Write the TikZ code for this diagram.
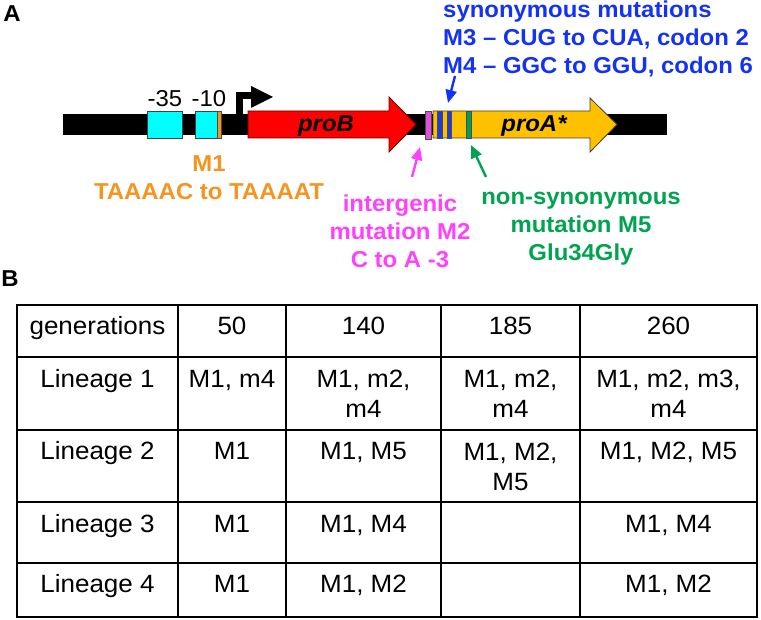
\documentclass[tikz,border=0pt]{standalone}
\usepackage{fontspec}
\setmainfont{Liberation Sans}[FakeStretch=1.04]
\usetikzlibrary{arrows.meta}
\definecolor{mblue}{RGB}{20,50,245}
\definecolor{mmag}{RGB}{255,64,255}
\definecolor{mgreen}{RGB}{0,163,80}
\definecolor{morange}{RGB}{247,148,30}
\definecolor{pgold}{RGB}{255,192,0}
\definecolor{pred}{RGB}{255,0,0}
\definecolor{pcyan}{RGB}{0,255,255}
\definecolor{sblue}{RGB}{30,60,230}
\definecolor{sgreen}{RGB}{0,160,80}
\definecolor{smag}{RGB}{220,80,220}
\tikzset{
  lbl/.style={inner sep=0pt, anchor=base, font=\fontsize{23}{28}\selectfont\bfseries},
  plain/.style={inner sep=0pt, anchor=base, font=\fontsize{23}{28}\selectfont},
  cell/.style={inner sep=0pt, anchor=base, align=center, font=\fontsize{25}{30}\selectfont},
  outl/.style={draw=black!75, line width=0.8pt},
  stripe/.style={draw=black!70, line width=0.8pt},
  callout/.style={line width=2.4pt, -{Triangle[length=13pt,width=11pt]}},
  grid/.style={line width=1.8pt, line cap=rect}
}
\begin{document}
\begin{tikzpicture}[x=1pt,y=-1pt]
\useasboundingbox (0,0) rectangle (761,620);
% panel labels
\node[lbl, font=\fontsize{23}{28}\selectfont\bfseries] (labA) at (12,22) {A};
\node[lbl, font=\fontsize{23}{28}\selectfont\bfseries] (labB) at (10,287) {B};
% DNA bar
\fill[black] (63,114) rectangle (667,135);
% promoter boxes
\draw[outl, fill=pcyan] (147,111) rectangle (182,138);
\draw[outl, fill=pcyan] (195,111) rectangle (217,138);
\draw[stripe, fill=morange] (217,111) rectangle (221,138);
\node[plain] (m35) at (165,107) {-35};
\node[plain] (m10) at (209,107) {-10};
% transcription start arrow
\draw[black, line width=7pt] (239,114) -- (239,96) -- (253,96);
\fill[black] (251,86) -- (273,97) -- (251,108) -- cycle;
% proB
\draw[draw=black!60!red, line width=0.8pt, fill=pred] (248,111) -- (389,111) -- (389,97) -- (416,124.5) -- (389,152) -- (389,138) -- (248,138) -- cycle;
\node[lbl, font=\fontsize{23}{28}\selectfont\bfseries\itshape] (proB) at (326,132) {proB};
% proA
\draw[outl, fill=pgold] (433,111) -- (590,111) -- (590,98) -- (617,124.5) -- (590,152) -- (590,138) -- (433,138) -- cycle;
\node[lbl, font=\fontsize{23}{28}\selectfont\bfseries\itshape] (proA) at (534,132) {proA*};
% mutation stripes
\draw[stripe, fill=smag] (425,111) rectangle (431,139);
\draw[stripe, fill=sblue] (437,111) rectangle (442,138);
\draw[stripe, fill=sblue] (447,111) rectangle (451,138);
\draw[stripe, fill=sgreen] (466,111) rectangle (471,138);
\coordinate (m2pt) at (420,147);
\coordinate (m34pt) at (448,103);
\coordinate (m5pt) at (471,145);
% labels (base anchor = baseline of last line)
\node[lbl, text=morange, align=center] (M1) at (209,200) {M1\\TAAAAC to TAAAAT};
\node[lbl, text=mblue, align=left, anchor=base west] (syn) at (443,74) {synonymous mutations\\M3 – CUG to CUA, codon 2\\M4 – GGC to GGU, codon 6};
\node[lbl, text=mmag, align=center] (M2) at (400,268) {intergenic\\mutation M2\\C to A -3};
\node[lbl, text=mgreen, align=center] (M5) at (581,261) {non-synonymous\\mutation M5\\Glu34Gly};
\coordinate (synfoot) at (455,76);
\coordinate (m2foot) at (412,177);
\coordinate (m5foot) at (486,177);
\draw[callout, mblue] (synfoot) -- (m34pt);
\draw[callout, mmag] (m2foot) -- (m2pt);
\draw[callout, mgreen] (m5foot) -- (m5pt);
% table grid
\draw[grid] (17,305) rectangle (757,617);
\foreach \yy in {357,430,502,563} \draw[grid] (17,\yy) -- (757,\yy);
\foreach \xx in {178,286,441,580} \draw[grid] (\xx,305) -- (\xx,617);
% header
\node[cell] (h0) at (97.5,335) {generations};
\node[cell] (h1) at (232,335) {50};
\node[cell] (h2) at (363.5,335) {140};
\node[cell] (h3) at (510.5,335) {185};
\node[cell] (h4) at (668.5,335) {260};
% lineage 1
\node[cell] (r1c0) at (97.5,388) {Lineage 1};
\node[cell] (r1c1) at (232,388) {M1, m4};
\node[cell] (r1c2) at (363.5,418) {M1, m2,\\m4};
\node[cell] (r1c3) at (510.5,418) {M1, m2,\\m4};
\node[cell] (r1c4) at (668.5,418) {M1, m2, m3,\\m4};
% lineage 2
\node[cell] (r2c0) at (97.5,460) {Lineage 2};
\node[cell] (r2c1) at (232,460) {M1};
\node[cell] (r2c2) at (363.5,460) {M1, M5};
\node[cell] (r2c3) at (510.5,490) {M1, M2,\\M5};
\node[cell] (r2c4) at (668.5,460) {M1, M2, M5};
% lineage 3
\node[cell] (r3c0) at (97.5,532) {Lineage 3};
\node[cell] (r3c1) at (232,532) {M1};
\node[cell] (r3c2) at (363.5,532) {M1, M4};
\node[cell] (r3c4) at (668.5,532) {M1, M4};
% lineage 4
\node[cell] (r4c0) at (97.5,592) {Lineage 4};
\node[cell] (r4c1) at (232,592) {M1};
\node[cell] (r4c2) at (363.5,592) {M1, M2};
\node[cell] (r4c4) at (668.5,592) {M1, M2};
\end{tikzpicture}
\end{document}
